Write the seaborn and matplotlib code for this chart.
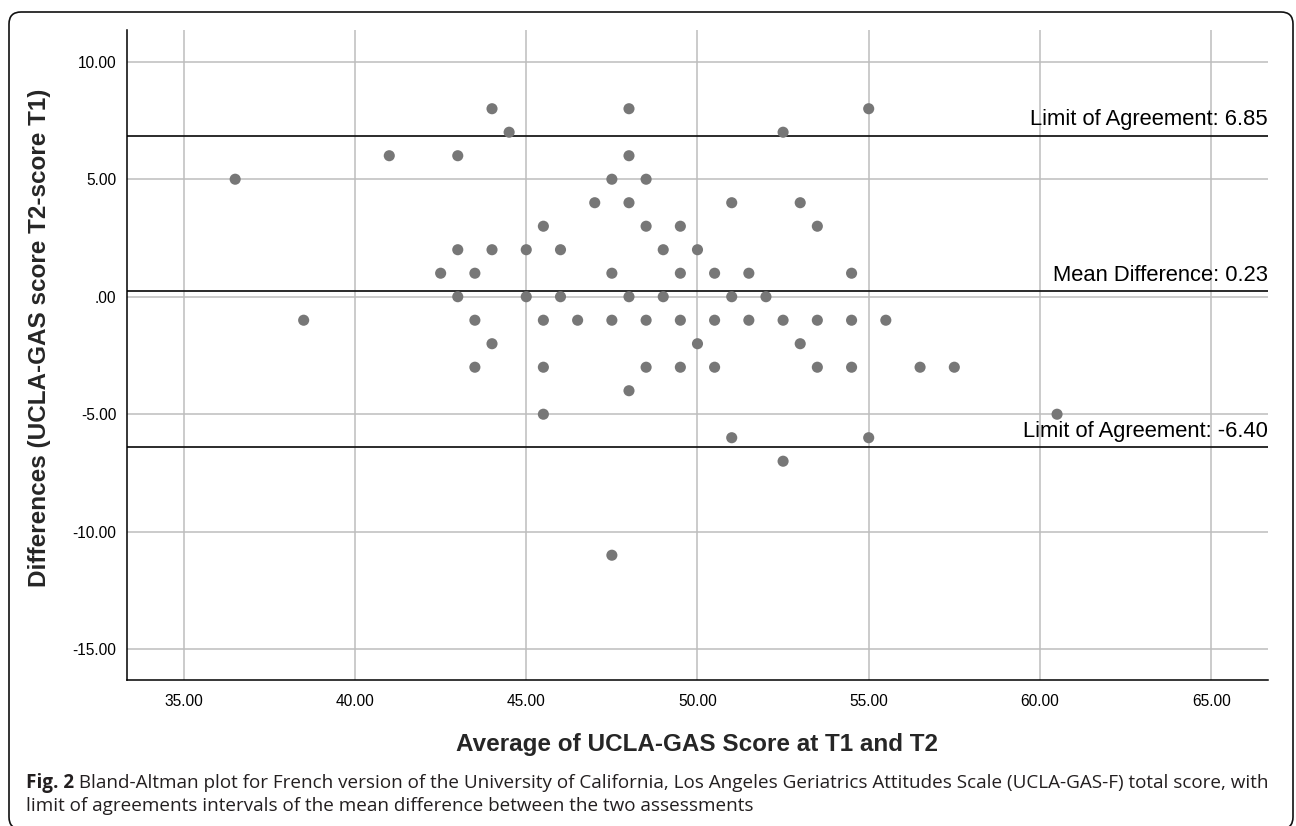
import matplotlib
matplotlib.use("Agg")
import matplotlib.pyplot as plt
from matplotlib.patches import FancyBboxPatch
import pandas as pd
import seaborn as sns

# average of T1 and T2 score, difference T2 - T1
avg_score = [
    36.5, 38.5, 41.0, 42.5, 43.0, 43.0, 43.0, 43.5, 43.5, 43.5,
    44.0, 44.0, 44.0, 44.5, 45.0, 45.0, 45.5, 45.5, 45.5, 45.5,
    46.0, 46.0, 46.5, 47.0, 47.5, 47.5, 47.5, 47.5, 48.0, 48.0,
    48.0, 48.0, 48.0, 48.5, 48.5, 48.5, 48.5, 49.0, 49.0, 49.5,
    49.5, 49.5, 49.5, 50.0, 50.0, 50.5, 50.5, 50.5, 51.0, 51.0,
    51.0, 51.5, 51.5, 52.0, 52.5, 52.5, 52.5, 53.0, 53.0, 53.5,
    53.5, 53.5, 54.5, 54.5, 54.5, 55.0, 55.0, 55.5, 56.5, 57.5,
    60.5,
]
diff_score = [
    5, -1, 6, 1, 6, 2, 0, 1, -1, -3,
    8, 2, -2, 7, 2, 0, 3, -1, -3, -5,
    2, 0, -1, 4, 5, 1, -1, -11, 8, 6,
    4, 0, -4, 5, 3, -1, -3, 2, 0, 3,
    1, -1, -3, 2, -2, 1, -1, -3, 4, 0,
    -6, 1, -1, 0, 7, -1, -7, 4, -2, 3,
    -1, -3, 1, -1, -3, 8, -6, -1, -3, -3,
    -5,
]

ref_values = [6.85, 0.23, -6.40]
ref_labels = ["Limit of Agreement: 6.85", "Mean Difference: 0.23", "Limit of Agreement: -6.40"]

x_ticks = [35, 40, 45, 50, 55, 60, 65]
y_ticks = [10, 5, 0, -5, -10, -15]
y_tick_labels = ["10.00", "5.00", ".00", "-5.00", "-10.00", "-15.00"]

caption_bold = "Fig. 2"
caption_line1 = (" Bland-Altman plot for French version of the University of California, "
                 "Los Angeles Geriatrics Attitudes Scale (UCLA-GAS-F) total score, with")
caption_line2 = "limit of agreements intervals of the mean difference between the two assessments"

df = pd.DataFrame({"avg": avg_score, "diff": diff_score})

sns.set_style("white")
plt.rcParams["font.family"] = ["Liberation Sans", "DejaVu Sans"]

W, H = 1296, 826
fig = plt.figure(figsize=(W / 100, H / 100), dpi=100)
ax = fig.add_axes([127.3 / W, 1 - 680 / H, (1268 - 127.3) / W, (680 - 30) / H])

sns.scatterplot(data=df, x="avg", y="diff", ax=ax, color="#777777", s=64,
                edgecolor="none", linewidth=0, zorder=3)

for val, lab in zip(ref_values, ref_labels):
    ax.axhline(val, color="#1a1a1a", lw=1.3, zorder=2)
    ax.annotate(lab, xy=(1.0, val), xycoords=("axes fraction", "data"),
                xytext=(0, 4), textcoords="offset points", ha="right", va="bottom",
                fontsize=15.8, color="black", zorder=4)

ax.set_xlim(33.35, 66.66)
ax.set_ylim(-16.31, 11.35)
ax.set_xticks(x_ticks)
ax.set_xticklabels([f"{t:.2f}" for t in x_ticks])
ax.set_yticks(y_ticks)
ax.set_yticklabels(y_tick_labels)
ax.tick_params(axis="both", length=0, labelsize=11.2, colors="black")
ax.tick_params(axis="x", pad=10)
ax.tick_params(axis="y", pad=8)
ax.grid(True, color="#bdbdbd", lw=1.1, zorder=0)
ax.set_axisbelow(True)
for side in ["top", "right"]:
    ax.spines[side].set_visible(False)
for side in ["left", "bottom"]:
    ax.spines[side].set_color("black")
    ax.spines[side].set_linewidth(1.1)
ax.set_xlabel("")
ax.set_ylabel("")

fig.text(697.5 / W, 1 - 744 / H, "Average of UCLA-GAS Score at T1 and T2",
         ha="center", va="center", fontsize=17.5, fontweight="bold")
fig.text(40 / W, 1 - 338 / H, "Differences (UCLA-GAS score T2-score T1)",
         ha="center", va="center", rotation=90, fontsize=17.5, fontweight="bold")

# rounded frame around the figure panel (pixel coordinates)
frame = FancyBboxPatch((9, -3), 1284, 817, boxstyle="round,pad=0,rounding_size=12",
                       transform=None, fill=False, edgecolor="#111111", lw=1.2)
fig.patches.append(frame)

cap_kw = dict(fontsize=13.6, color="#231f20", family=["Open Sans", "DejaVu Sans"],
              va="baseline")
t_bold = fig.text(26 / W, 1 - 788 / H, caption_bold, fontweight="bold", **cap_kw)
renderer = fig.canvas.get_renderer()
bb = t_bold.get_window_extent(renderer)
fig.text(bb.x1 / W, 1 - 788 / H, caption_line1, **cap_kw)
fig.text(26 / W, 1 - 811 / H, caption_line2, **cap_kw)

fig.savefig("out.png", dpi=100)
